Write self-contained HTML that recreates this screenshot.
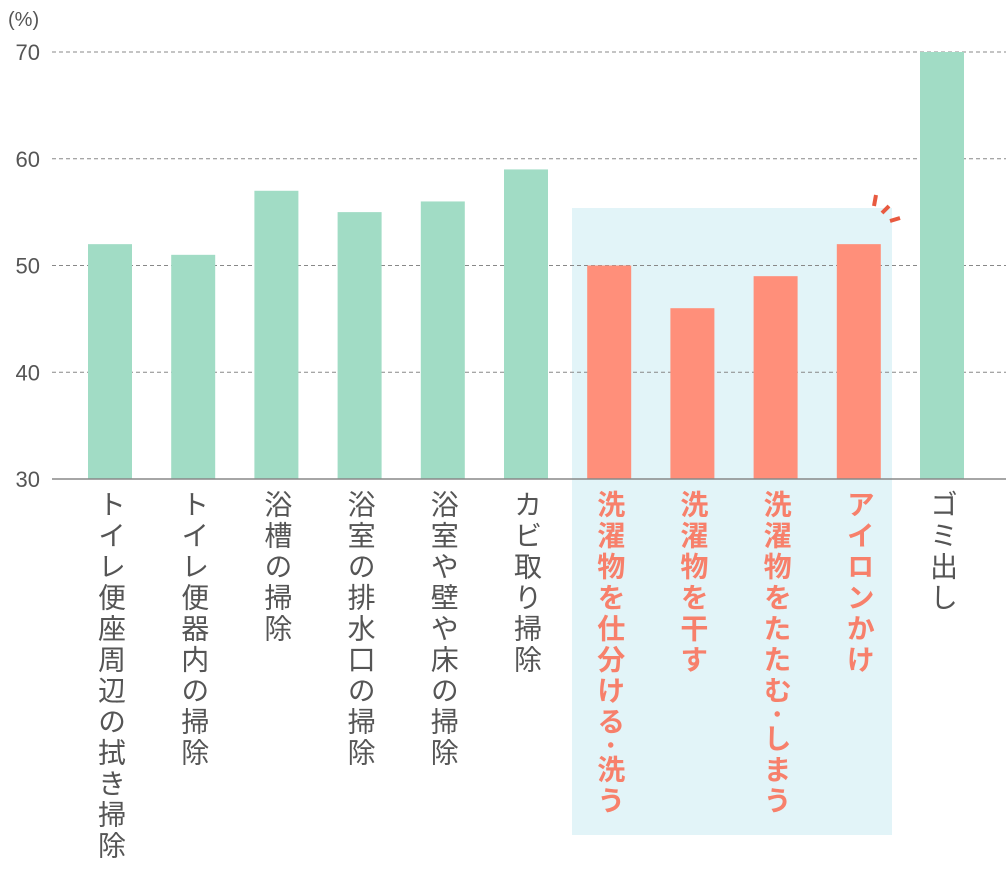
<!DOCTYPE html>
<html><head><meta charset="utf-8">
<style>
body{margin:0;background:#fff;width:1006px;height:869px;overflow:hidden;position:relative;font-family:"Liberation Sans","Noto Sans CJK JP",sans-serif;}
.lbl{position:absolute;writing-mode:vertical-rl;font-size:28px;letter-spacing:3px;color:#555;line-height:1;}
.lbl.hl{color:#f7806b;font-weight:bold;}
</style></head>
<body>
<svg id="chart" width="1006" height="869" style="position:absolute;left:0;top:0"></svg>
<div id="labels"></div>
<script>
const categories=["トイレ便座周辺の拭き掃除","トイレ便器内の掃除","浴槽の掃除","浴室の排水口の掃除","浴室や壁や床の掃除","カビ取り掃除","洗濯物を仕分ける･洗う","洗濯物を干す","洗濯物をたたむ･しまう","アイロンかけ","ゴミ出し"];
const values=[52,51,57,55,56,59,50,46,49,52,70];
const highlighted=[false,false,false,false,false,false,true,true,true,true,false];
const yTicks=[30,40,50,60,70];
const NS="http://www.w3.org/2000/svg";
const svg=document.getElementById('chart');
const y=v=>479-(v-30)*10.675;
const x=i=>110+i*83.2;
function mk(t,a){const e=document.createElementNS(NS,t);for(const k in a)e.setAttribute(k,a[k]);svg.appendChild(e);return e;}
// highlight box
let hb=mk('rect',{x:572,y:208,width:320,height:627,fill:'#e2f4f8'});


yTicks.forEach(t=>{
  if(t>30){let g=mk('line',{x1:52,x2:1006,y1:y(t),y2:y(t),stroke:'#888','stroke-dasharray':'4,3','stroke-width':1});
  
  }
  let tx=mk('text',{x:40,y:y(t)+8,'text-anchor':'end','font-size':22,fill:'#555'});
  tx.textContent=t;
  
  
});
let u=mk('text',{x:8,y:26,'font-size':20,fill:'#555'});u.textContent='(%)';


values.forEach((v,i)=>{
  let r=mk('rect',{x:x(i)-22,y:y(v),width:44,height:479-y(v),fill:highlighted[i]?'#ff8f7a':'#a1dcc5'});
  
  
  const d=document.createElement('div');
  d.className='lbl'+(highlighted[i]?' hl':'');
  d.style.left=(x(i)-14)+'px';d.style.top='490px';
  d.textContent=categories[i];
  
  
  document.getElementById('labels').appendChild(d);
});
let b=mk('line',{x1:52,x2:1006,y1:479,y2:479,stroke:'#888','stroke-width':1.5});


[[874,206,876,195],[882,213,889,206],[890,221,900,218]].forEach((p,k)=>{
  let l=mk('line',{x1:p[0],y1:p[1],x2:p[2],y2:p[3],stroke:'#e85a40','stroke-width':4});
  
  
});
</script>
</body></html>
